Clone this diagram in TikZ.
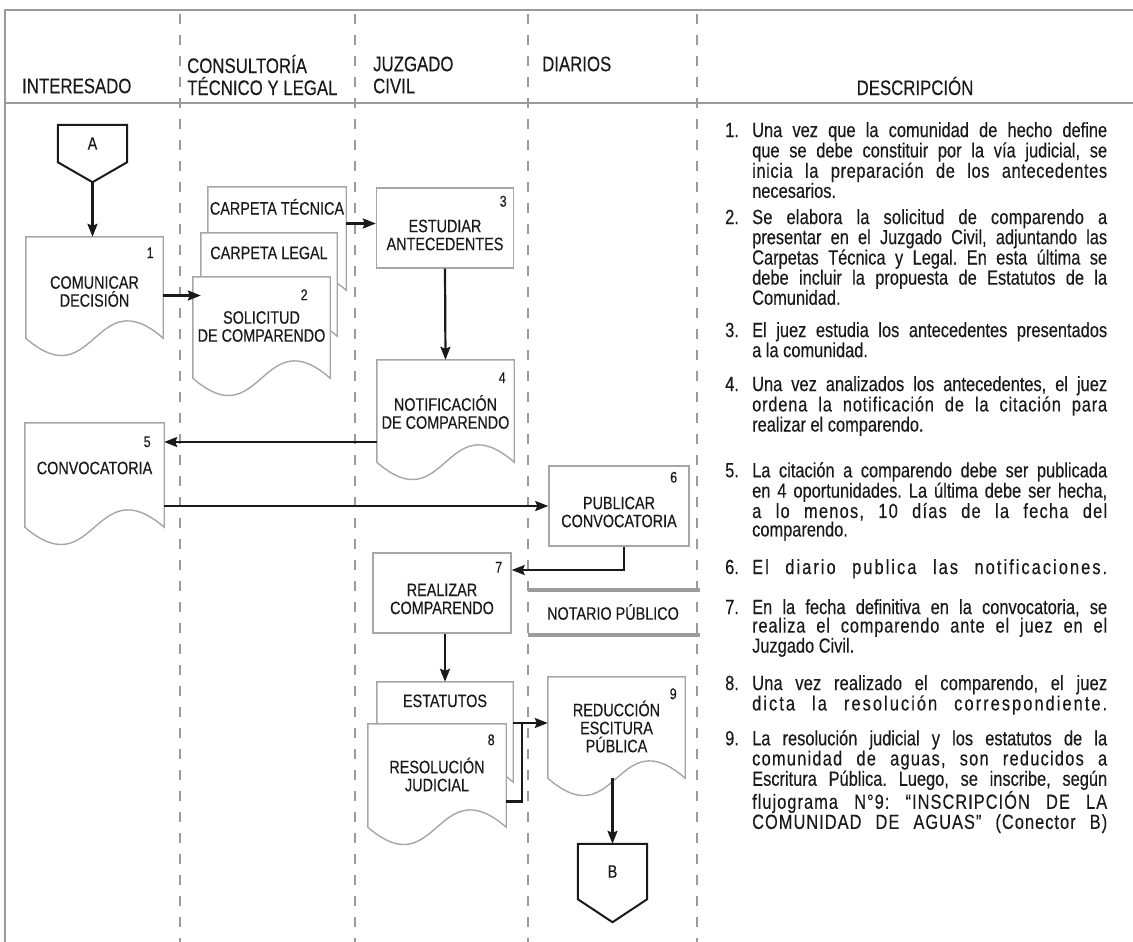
\documentclass[tikz,border=0pt]{standalone}
\usepackage{fontspec}
\setmainfont{Liberation Sans}[FakeStretch=0.8, FakeBold=0.3]
\usetikzlibrary{positioning}
\usetikzlibrary{calc}
\usetikzlibrary{arrows.meta}
\definecolor{lanegray}{HTML}{9B9B9B}
\definecolor{boxgray}{HTML}{A6A6A6}
\definecolor{ink}{HTML}{1A1A1A}
\pgfdeclarelayer{bg}
\pgfsetlayers{bg,main}
\frenchspacing

\newcommand{\boxfont}{\fontsize{18}{18}\selectfont}
\newcommand{\numfont}{\fontsize{15.5}{15.5}\selectfont}
\newcommand{\headfont}{\fontsize{21}{22}\selectfont}
\newcommand{\descfont}{\fontsize{20.5}{17}\selectfont}
\newlength{\dw}\setlength{\dw}{355pt}
\newcommand{\jline}[2][0]{\makebox[\dw][s]{\addfontfeature{LetterSpace=#1}#2}}
\newcommand{\dnum}[1]{\makebox[27pt][l]{#1}}
\newcommand{\dind}{\hspace*{27pt}}

% document outline with wavy bottom
\newcommand{\docshape}[1]{%
  \draw[docline] (#1.north west) -- (#1.south west)
    .. controls ($(#1.south)+(0,60)$) and ($(#1.south)+(0,-60)$) .. (#1.south east)
    -- (#1.north east) -- cycle;}
% off-page connector
\newcommand{\offpage}[2]{%
  \draw[conline] (#1.north west) -- (#1.south west) -- ($(#1.south)+(0,#2)$)
    -- (#1.south east) -- (#1.north east) -- cycle;}

\begin{document}
\begin{tikzpicture}[x=1pt, y=-1pt, font=\boxfont, text=ink,
    lane/.style={draw=lanegray, line width=2.6pt, dash pattern=on 10pt off 11pt},
    frame/.style={draw=lanegray, line width=2.6pt},
    band/.style={draw=lanegray, line width=4.5pt},
    docline/.style={draw=boxgray, line width=1.4pt, fill=white},
    conline/.style={draw=ink, line width=2pt, fill=white},
    doc/.style={rectangle, inner sep=0pt, minimum width=137pt, minimum height=101pt},
    proc/.style={rectangle, draw=boxgray, line width=1.4pt, fill=white, inner sep=0pt, minimum width=137pt, minimum height=80pt},
    conn/.style={rectangle, inner sep=0pt, minimum width=69pt, minimum height=55pt},
    lbl/.style={inner sep=0pt, align=center},
    numlbl/.style={inner sep=0pt, font=\numfont},
    head/.style={anchor=west, align=left, inner sep=0pt, font=\headfont},
    desc/.style={anchor=north west, align=left, inner sep=0pt, font=\descfont},
    flow/.style={draw=ink, line width=2.2pt},
    arr/.style={flow, -{Stealth[length=13pt, width=10pt, inset=2pt]}}]
  \useasboundingbox (0,0) rectangle (1133,942);

  % frame and lanes
  \draw[frame] (1133,10) -- (5,10) -- (5,942);
  \draw[frame] (5,103) -- (1133,103);
  \begin{pgfonlayer}{bg}
    \foreach \x in {180,355,528,697}
      \draw[lane] (\x,14) -- (\x,942);
  \end{pgfonlayer}

  % headers
  \node[head] (hInt) at (22,86) {INTERESADO};
  \node[head] (hCon) at (187,75) {CONSULTORÍA\\TÉCNICO Y LEGAL};
  \node[head] (hJuz) at (373,75) {JUZGADO\\CIVIL};
  \node[head] (hDia) at (542,64) {DIARIOS};
  \node[head, anchor=center] (hDes) at (915,86) {DESCRIPCIÓN};

  % notary band
  \draw[band] (528,590) -- (700,590);
  \draw[band] (528,635) -- (700,635);
  \node[lbl] (notario) at (613,612) {NOTARIO PÚBLICO};

  % flow shapes
  \node[conn, minimum height=37pt] (A) at (92.5,143.5) {};
  \coordinate (Atip) at ($(A.south)+(0,20)$);
  \node[doc] (c1) at (94.5,287.5) {};
  \node[doc, minimum width=138pt, minimum height=103pt] (tec) at (277,238.5) {};
  \node[doc, minimum width=136pt, minimum height=103pt] (leg) at (269,284.5) {};
  \node[doc] (sol) at (261.5,327.5) {};
  \node[proc] (c3) at (445,228) {};
  \node[doc, minimum height=102pt] (c4) at (445.5,411) {};
  \node[doc, minimum width=139pt, minimum height=104pt] (c5) at (94.5,475) {};
  \node[proc, minimum width=140pt] (c6) at (619,506) {};
  \node[proc, minimum width=138pt] (c7) at (442,593) {};
  \node[doc, minimum width=136pt, minimum height=100pt] (est) at (445,732) {};
  \node[doc, minimum width=138pt, minimum height=103pt] (c8) at (437,775.5) {};
  \node[doc] (c9) at (616.5,727.5) {};
  \node[conn] (B) at (612.5,871.5) {};

  % outlines, back to front
  \begin{pgfonlayer}{bg}
    \offpage{A}{20}
    \docshape{c1}
    \docshape{tec}
    \docshape{leg}
    \docshape{sol}
    \docshape{c4}
    \docshape{c5}
    \docshape{est}
    \docshape{c8}
    \docshape{c9}
    \offpage{B}{23}
  \end{pgfonlayer}

  % texts
  \node[lbl] (tA) at (A) {A};
  \node[lbl] (tB) at (B) {B};
  \node[lbl] (t1) at ($(c1)+(0,4)$) {COMUNICAR\\DECISIÓN};
  \node[lbl, below=12pt of tec.north] (tecT) {CARPETA TÉCNICA};
  \node[lbl, below=13.5pt of leg.north] (legT) {CARPETA LEGAL};
  \node[lbl] (t2) at ($(sol)+(0,-1)$) {SOLICITUD\\DE COMPARENDO};
  \node[lbl] (t3) at ($(c3)+(0,7)$) {ESTUDIAR\\ANTECEDENTES};
  \node[lbl] (t4) at ($(c4)+(0,1)$) {NOTIFICACIÓN\\DE COMPARENDO};
  \node[lbl] (t5) at ($(c5)+(0,-7)$) {CONVOCATORIA};
  \node[lbl] (t6) at ($(c6)+(0,6)$) {PUBLICAR\\CONVOCATORIA};
  \node[lbl] (t7) at ($(c7)+(0,6)$) {REALIZAR\\COMPARENDO};
  \node[lbl, below=12.5pt of est.north] (estT) {ESTATUTOS};
  \node[lbl] (t8) at ($(c8)+(0,-1)$) {RESOLUCIÓN\\JUDICIAL};
  \node[lbl] (t9) at ($(c9)+(0,-1)$) {REDUCCIÓN\\ESCITURA\\PÚBLICA};

  % step numbers
  \node[numlbl] (n1) at ($(c1.north east)+(-13,16)$) {1};
  \node[numlbl] (n2) at ($(sol.north east)+(-26,18)$) {2};
  \node[numlbl] (n3) at ($(c3.north east)+(-11,14)$) {3};
  \node[numlbl] (n4) at ($(c4.north east)+(-12,18)$) {4};
  \node[numlbl] (n5) at ($(c5.north east)+(-17,19)$) {5};
  \node[numlbl] (n6) at ($(c6.north east)+(-16,12)$) {6};
  \node[numlbl] (n7) at ($(c7.north east)+(-13,15)$) {7};
  \node[numlbl] (n8) at ($(c8.north east)+(-15,16)$) {8};
  \node[numlbl] (n9) at ($(c9.north east)+(-12,17)$) {9};

  % connectors
  \coordinate (jn) at ([xshift=9pt,yshift=9pt]est.east);
  \draw[arr] (Atip) -- (Atip |- c1.north);
  \draw[arr] ([yshift=-8pt]c1.east) -- ([yshift=-8pt]c1.east -| leg.west);
  \draw[arr] ([yshift=15pt]tec.east) -- ([yshift=15pt]tec.east -| c3.west);
  \draw[arr] (c3.south) -- (c4.north);
  \draw[arr] ([yshift=-31pt]c4.west) -- ([yshift=-31pt]c4.west -| c5.east);
  \draw[arr] ([yshift=-31pt]c5.east) -- ([yshift=-31pt]c5.east -| c6.west);
  \draw[arr] ([xshift=5pt]c6.south) |- ([yshift=23pt]c7.east);
  \draw[arr] (est.north |- c7.south) -- (est.north);
  \draw[arr] (jn -| est.east) -- (jn -| c9.west);
  \draw[flow] ([yshift=-26pt]c8.east) -| (jn);
  \draw[arr] (B.north |- c9.south) -- (B.north);

  % description
  \node[desc] (d1) at (725,122) {\dnum{1.}\jline{Una vez que la comunidad de hecho define}\\
    \dind\jline{que se debe constituir por la vía judicial, se}\\
    \dind\jline[3]{inicia la preparación de los antecedentes}\\
    \dind necesarios.};
  \node[desc] (d2) at (725,209) {\dnum{2.}\jline[1]{Se elabora la solicitud de comparendo a}\\
    \dind\jline{presentar en el Juzgado Civil, adjuntando las}\\
    \dind\jline{Carpetas Técnica y Legal. En esta última se}\\
    \dind\jline{debe incluir la propuesta de Estatutos de la}\\
    \dind Comunidad.};
  \node[desc] (d3) at (725,322) {\dnum{3.}\jline{El juez estudia los antecedentes presentados}\\
    \dind a la comunidad.};
  \node[desc] (d4) at (725,376) {\dnum{4.}\jline{Una vez analizados los antecedentes, el juez}\\
    \dind\jline[4]{ordena la notificación de la citación para}\\
    \dind realizar el comparendo.};
  \node[desc] (d5) at (725,462) {\dnum{5.}\jline{La citación a comparendo debe ser publicada}\\
    \dind\jline{en 4 oportunidades. La última debe ser hecha,}\\
    \dind\jline[6]{a lo menos, 10 días de la fecha del}\\
    \dind comparendo.};
  \node[desc] (d6) at (725,559) {\dnum{6.}\jline[10]{El diario publica las notificaciones.}};
  \node[desc] (d7) at (725,599) {\dnum{7.}\jline{En la fecha definitiva en la convocatoria, se}\\
    \dind\jline[4]{realiza el comparendo ante el juez en el}\\
    \dind Juzgado Civil.};
  \node[desc] (d8) at (725,675) {\dnum{8.}\jline[1]{Una vez realizado el comparendo, el juez}\\
    \dind\jline[10]{dicta la resolución correspondiente.}};
  \node[desc] (d9) at (725,730) {\dnum{9.}\jline{La resolución judicial y los estatutos de la}\\
    \dind\jline[6]{comunidad de aguas, son reducidos a}\\
    \dind\jline{Escritura Pública. Luego, se inscribe, según}\\
    \dind\jline[5]{flujograma N°9: “INSCRIPCIÓN DE LA}\\
    \dind\jline[5]{COMUNIDAD DE AGUAS” (Conector B)}};
\end{tikzpicture}
\end{document}
